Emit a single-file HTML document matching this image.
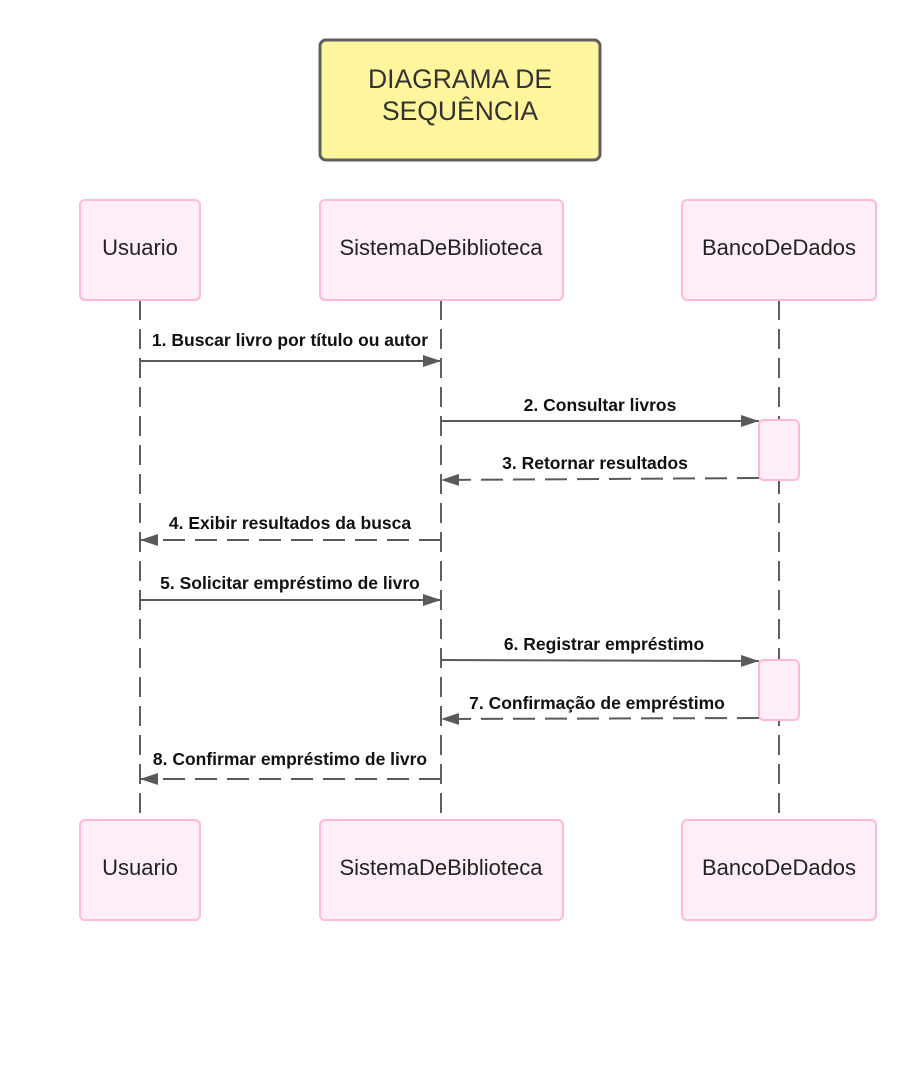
<!DOCTYPE html>
<html><head><meta charset="utf-8"><style>
html,body{margin:0;padding:0;background:#fff;}
svg text{font-family:"Liberation Sans",Arial,sans-serif;}
</style></head><body>
<svg width="917" height="1084" viewBox="0 0 917 1084" xmlns="http://www.w3.org/2000/svg">
<defs>
<marker id="ah" markerWidth="18" markerHeight="12" refX="18" refY="6" orient="auto" markerUnits="userSpaceOnUse">
<path d="M0,0 L18,6 L0,12 Z" fill="#5a5a5a"/>
</marker>
</defs>
<rect x="320" y="40" width="280" height="120" rx="6" fill="#fff59d" stroke="#5f5f5f" stroke-width="3"/>
<text x="460" y="88" text-anchor="middle" font-size="26.5" fill="#333">DIAGRAMA DE</text>
<text x="460" y="120" text-anchor="middle" font-size="26.5" fill="#333">SEQUÊNCIA</text>

<g stroke="#5f5f5f" stroke-width="2" stroke-dasharray="20 9" fill="none">
<line x1="140" y1="300" x2="140" y2="820"/>
<line x1="441" y1="300" x2="441" y2="820"/>
<line x1="779" y1="300" x2="779" y2="820"/>
</g>

<g fill="#ffeef8" stroke="#ffb8d8" stroke-width="2">
<rect x="80" y="200" width="120" height="100" rx="5"/>
<rect x="320" y="200" width="243" height="100" rx="5"/>
<rect x="682" y="200" width="194" height="100" rx="5"/>
<rect x="80" y="820" width="120" height="100" rx="5"/>
<rect x="320" y="820" width="243" height="100" rx="5"/>
<rect x="682" y="820" width="194" height="100" rx="5"/>
<rect x="759" y="420" width="40" height="60" rx="5"/>
<rect x="759" y="660" width="40" height="60" rx="5"/>
</g>
<g font-size="22" fill="#222" text-anchor="middle">
<text x="140" y="255">Usuario</text>
<text x="441" y="255">SistemaDeBiblioteca</text>
<text x="779" y="255">BancoDeDados</text>
<text x="140" y="875">Usuario</text>
<text x="441" y="875">SistemaDeBiblioteca</text>
<text x="779" y="875">BancoDeDados</text>
</g>

<g stroke="#5a5a5a" stroke-width="2" fill="none">
<line x1="140" y1="361" x2="441" y2="361" marker-end="url(#ah)"/>
<line x1="441" y1="421" x2="759" y2="421" marker-end="url(#ah)"/>
<line x1="759" y1="478" x2="441" y2="480" stroke-dasharray="22 10" marker-end="url(#ah)"/>
<line x1="441" y1="540" x2="140" y2="540" stroke-dasharray="22 10" marker-end="url(#ah)"/>
<line x1="140" y1="600" x2="441" y2="600" marker-end="url(#ah)"/>
<line x1="441" y1="660" x2="759" y2="661" marker-end="url(#ah)"/>
<line x1="759" y1="718" x2="441" y2="719" stroke-dasharray="22 10" marker-end="url(#ah)"/>
<line x1="441" y1="779" x2="140" y2="779" stroke-dasharray="22 10" marker-end="url(#ah)"/>
</g>

<g font-size="17.5" font-weight="bold" fill="#111" text-anchor="middle">
<text x="290" y="346">1. Buscar livro por título ou autor</text>
<text x="600" y="411">2. Consultar livros</text>
<text x="595" y="469">3. Retornar resultados</text>
<text x="290" y="529">4. Exibir resultados da busca</text>
<text x="290" y="589">5. Solicitar empréstimo de livro</text>
<text x="604" y="650">6. Registrar empréstimo</text>
<text x="597" y="709">7. Confirmação de empréstimo</text>
<text x="290" y="765">8. Confirmar empréstimo de livro</text>
</g>
</svg>
</body></html>
